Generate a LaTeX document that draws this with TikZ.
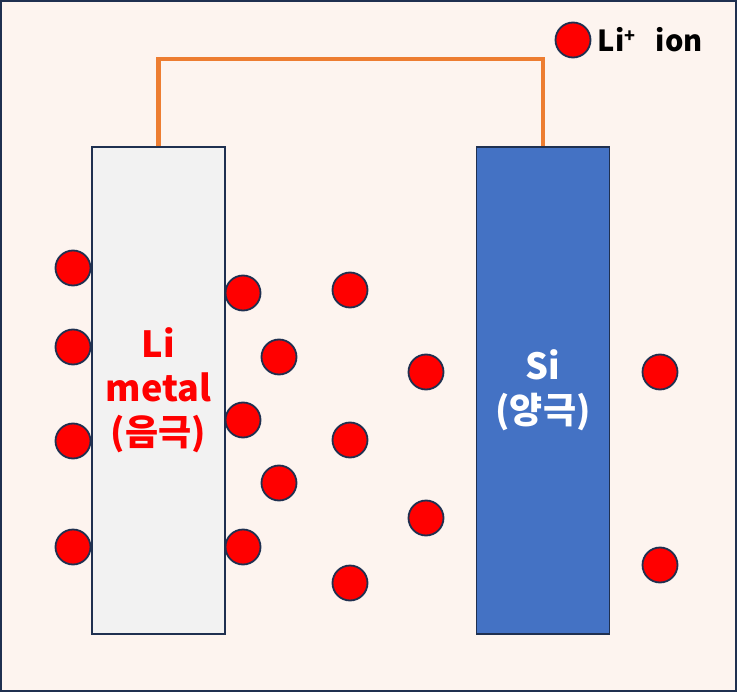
\documentclass[tikz,border=0pt]{standalone}
\usepackage{fontspec}
\setmainfont{Noto Sans CJK KR}
\usetikzlibrary{positioning}
\definecolor{bgpeach}{HTML}{FDF4EF}
\definecolor{navy}{HTML}{1F3050}
\definecolor{wireorange}{HTML}{ED7D31}
\definecolor{siblue}{HTML}{4472C4}
\definecolor{metalgray}{HTML}{F2F2F2}
\begin{document}
\begin{tikzpicture}[x=1pt, y=-1pt,
        ion/.style = {shape=circle, draw=navy, line width=1.8pt,
            fill=red, minimum size=35pt, inner sep=0pt},
        electrode/.style = {shape=rectangle, draw=navy, line width=1.5pt,
            minimum width=133pt, minimum height=487pt, align=center,
            font=\bfseries\fontsize{36}{44}\selectfont},
        wire/.style = {draw=wireorange, line width=4.5pt}]
    \useasboundingbox (0,0) rectangle (745,693);
    \draw[navy, line width=2pt, fill=bgpeach] (1,1) rectangle (736,691);
    % electrodes
    \node[electrode, fill=metalgray, text=red] (neg) at (158.5,390.5) {Li\\metal\\(음극)};
    \node[electrode, fill=siblue, text=white] (pos) at (543,390.5) {Si\\(양극)};
    % external circuit
    \coordinate (top) at (350,59);
    \draw[wire] (neg.north) |- (top) -| (pos.north);
    % lithium ions
    \foreach \x/\y [count=\i] in {73/268, 73/347, 73/441, 73/547,
            243/293, 243/420, 243/547, 279/357, 279/483,
            350/290, 350/440, 350/583, 426/372, 426/518,
            660/372, 660/565}
        \node[ion] (ion\i) at (\x,\y) {};
    % legend
    \node[ion] (key) at (573,40) {};
    \node[right=3pt of key, font=\bfseries\fontsize{29}{32}\selectfont] (keylabel)
        {Li\raisebox{0.6ex}{\fontsize{18}{20}\selectfont+}\hspace{0.7em}ion};
\end{tikzpicture}
\end{document}
